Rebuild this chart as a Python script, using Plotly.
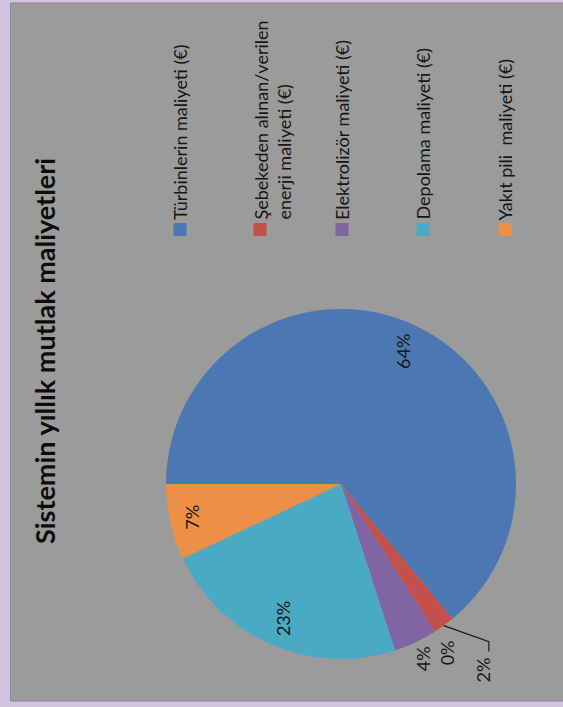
import math
import plotly.graph_objects as go

# ---------------- data ----------------
categories = [
    "Türbinlerin maliyeti (€)",
    "Şebekeden alınan/verilen<br>enerji maliyeti (€)",
    "",
    "Elektrolizör maliyeti (€)",
    "Depolama maliyeti (€)",
    "Yakıt pili  maliyeti (€)",
]
values = [64, 2, 0, 4, 23, 7]
title_text = "Sistemin yıllık mutlak maliyetleri"

# ---------------- style ----------------
W, H = 563, 707
colors = ["#4B78B3", "#C4504B", "#C4504B", "#8164A4", "#4AA9C3", "#EC8F47"]
label_r = [0.835, None, 1.14, 1.10, 0.835, 0.87]   # None -> leader line label
CX, CY, R = 341, 484, 175          # pie centre / radius in px
FONT = "Lato, 'Open Sans', sans-serif"
TXT = "#161616"


def px(x):
    return x / W


def py(y):
    return 1 - y / H


fig = go.Figure()
fig.add_trace(go.Pie(
    labels=[c if c else " " for c in categories],
    values=values,
    marker=dict(colors=colors, line=dict(width=0)),
    sort=False,
    direction="clockwise",
    rotation=270,
    textinfo="none",
    hoverinfo="label+percent",
    showlegend=False,
    domain=dict(x=[px(CX - R), px(CX + R)], y=[py(CY + R), py(CY - R)]),
))

shapes = []
annotations = []

# grey panel
shapes.append(dict(type="rect", xref="paper", yref="paper",
                   x0=px(10.5), x1=px(566), y0=py(701), y1=py(3),
                   fillcolor="#9B9B9B", line=dict(color="#8C879A", width=1),
                   layer="below"))

# pie labels (rotated like the source)
total = sum(values)
cum = 0.0
for i, v in enumerate(values):
    frac_mid = (cum + v / 2) / total
    cum += v
    ang = math.radians(180 - 360 * frac_mid)   # start at 9 o'clock, clockwise
    dx, dy = math.cos(ang), -math.sin(ang)
    pct = f"{round(100 * v / total)}%"
    if label_r[i] is None:
        sx, sy = CX + R * dx, CY + R * dy
        bx, by = sx + 45, sy + 16
        ex, ey = bx, by + 10
        shapes.append(dict(type="path", xref="paper", yref="paper",
                           path=f"M {px(sx)},{py(sy)} L {px(bx)},{py(by)} L {px(ex)},{py(ey)}",
                           line=dict(color="#1a1a1a", width=1.2)))
        lx, ly = bx - 6, by + 28
    else:
        lx, ly = CX + R * label_r[i] * dx, CY + R * label_r[i] * dy
    annotations.append(dict(x=px(lx), y=py(ly), xref="paper", yref="paper",
                            text=pct, showarrow=False, textangle=-90,
                            font=dict(family=FONT, size=18, color=TXT),
                            xanchor="center", yanchor="middle"))

# title
annotations.append(dict(x=px(45), y=py(351), xref="paper", yref="paper",
                        text=f"<b>{title_text}</b>", showarrow=False, textangle=-90,
                        font=dict(family=FONT, size=27, color="#0d0d0d"),
                        xanchor="center", yanchor="middle"))

# legend (rotated)
leg_x = [180, 272, 342, 423, 505]
k = 0
for i, c in enumerate(categories):
    if not c:
        continue
    x = leg_x[k]
    k += 1
    sq_x = x if "<br>" not in c else x - 12
    shapes.append(dict(type="rect", xref="paper", yref="paper",
                       x0=px(sq_x - 6.5), x1=px(sq_x + 6.5), y0=py(236), y1=py(223),
                       fillcolor=colors[i], line=dict(width=0)))
    annotations.append(dict(x=px(x), y=py(222), xref="paper", yref="paper",
                            text=c, showarrow=False, textangle=-90, align="left",
                            font=dict(family=FONT, size=18, color=TXT),
                            xanchor="center", yanchor="bottom"))

fig.update_layout(
    width=W, height=H,
    margin=dict(l=0, r=0, t=0, b=0),
    paper_bgcolor="#D0C4DF",
    plot_bgcolor="#D0C4DF",
    shapes=shapes,
    annotations=annotations,
    showlegend=False,
)

fig.write_html("out.html")
